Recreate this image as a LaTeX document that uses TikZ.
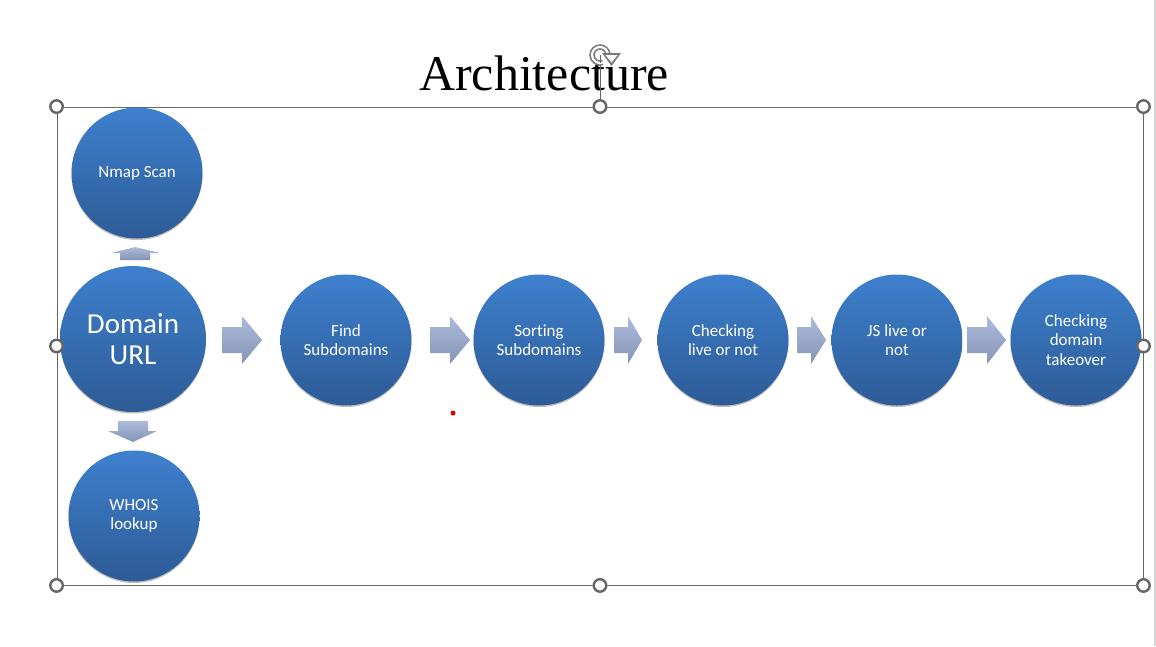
\documentclass[tikz,border=0pt]{standalone}
\usepackage{fontspec}
\setmainfont{Carlito}[Ligatures=NoCommon]
\newfontfamily\titlefont{Liberation Serif}
\usetikzlibrary{shadows}
\definecolor{circtop}{HTML}{3E80CE}
\definecolor{circbot}{HTML}{2D5B96}
\definecolor{arrtop}{HTML}{ADBCDC}
\definecolor{arrbot}{HTML}{8694B4}
\definecolor{framegray}{HTML}{666666}
\definecolor{icongray}{HTML}{7A7A7A}
\definecolor{edgegray}{HTML}{D4D4D4}
\begin{document}
\begin{tikzpicture}[x=1pt,y=-1pt,
  stage/.style={circle, inner sep=0pt, minimum size=131pt, top color=circtop, bottom color=circbot,
    text=white, align=center, font=\fontsize{17}{19.5}\selectfont,
    drop shadow={shadow xshift=0pt, shadow yshift=-1.5pt, opacity=0.25, fill=black}},
  blockarrow/.style={top color=arrtop, bottom color=arrbot, draw=none},
  handle/.style={circle, draw=framegray, fill=white, line width=2.4pt, minimum size=12.5pt, inner sep=0pt},
  selframe/.style={draw=framegray, line width=0.9pt, inner sep=0pt, minimum width=1086pt, minimum height=478pt}]
\useasboundingbox (0,0) rectangle (1156,646);
\fill[white] (0,0) rectangle (1156,646);
% right edge of the slide area
\draw[edgegray, line width=2pt] (1155,0) -- (1155,646);
% title
\node[font=\titlefont\fontsize{50}{60}\selectfont, anchor=base, inner sep=0pt] (title) at (544,90) {Architecture};
% selection frame
\node[selframe] (frame) at (600,346) {};
% circles
\node[stage] (nmap) at (137,173) {Nmap Scan};
\node[stage, minimum size=146pt, font=\fontsize{29}{31}\selectfont] (domain) at (133,339) {Domain\\URL};
\node[stage] (whois) at (134,516) {WHOIS\\lookup};
\node[stage] (find) at (346,340) {Find\\Subdomains};
\node[stage] (sort) at (539,340) {Sorting\\Subdomains};
\node[stage] (live) at (723,340) {Checking\\live or not};
\node[stage] (js) at (897,340) {JS live or\\not};
\node[stage] (takeover) at (1076,340) {Checking\\domain\\takeover};
% block arrows
\path[blockarrow] (222,327) -- (242,327) -- (242,316) -- (262,340) -- (242,364) -- (242,353) -- (222,353) -- cycle;
\path[blockarrow] (430,327) -- (450,327) -- (450,316) -- (470,340) -- (450,364) -- (450,353) -- (430,353) -- cycle;
\path[blockarrow] (614,327) -- (628,327) -- (628,316) -- (642,340) -- (628,364) -- (628,353) -- (614,353) -- cycle;
\path[blockarrow] (797,327) -- (811,327) -- (811,316) -- (826,340) -- (811,364) -- (811,353) -- (797,353) -- cycle;
\path[blockarrow] (967,327) -- (987,327) -- (987,316) -- (1006,340) -- (987,364) -- (987,353) -- (967,353) -- cycle;
\path[blockarrow] (120,260) -- (120,253) -- (111,253) -- (135,247) -- (160,253) -- (150,253) -- (150,260) -- cycle;
\path[blockarrow] (118,421) -- (148,421) -- (148,431) -- (157,431) -- (133,442) -- (108,431) -- (118,431) -- cycle;
% red dot
\fill[red!85!black] (453,413) circle (2.5pt);
% rotation handle stem and icon
\coordinate (rot) at (600,55);
\draw[framegray, line width=0.9pt] (rot) -- (frame.north);
\draw[icongray, line width=5.5pt] (rot) ++(0:8) arc[start angle=0, end angle=-290, radius=8];
\draw[white, line width=2.2pt] (rot) ++(0:8) arc[start angle=0, end angle=-290, radius=8];
\fill[icongray] (602,53) -- (621,53) -- (611.5,66) -- cycle;
\fill[white] (605.5,55) -- (617.5,55) -- (611.5,62.5) -- cycle;
\draw[framegray, line width=0.9pt] (rot) -- ++(0,8);
% handles
\foreach \a in {north west,north,north east,west,east,south west,south,south east}
  \node[handle] (h-\a) at (frame.\a) {};
\end{tikzpicture}
\end{document}
